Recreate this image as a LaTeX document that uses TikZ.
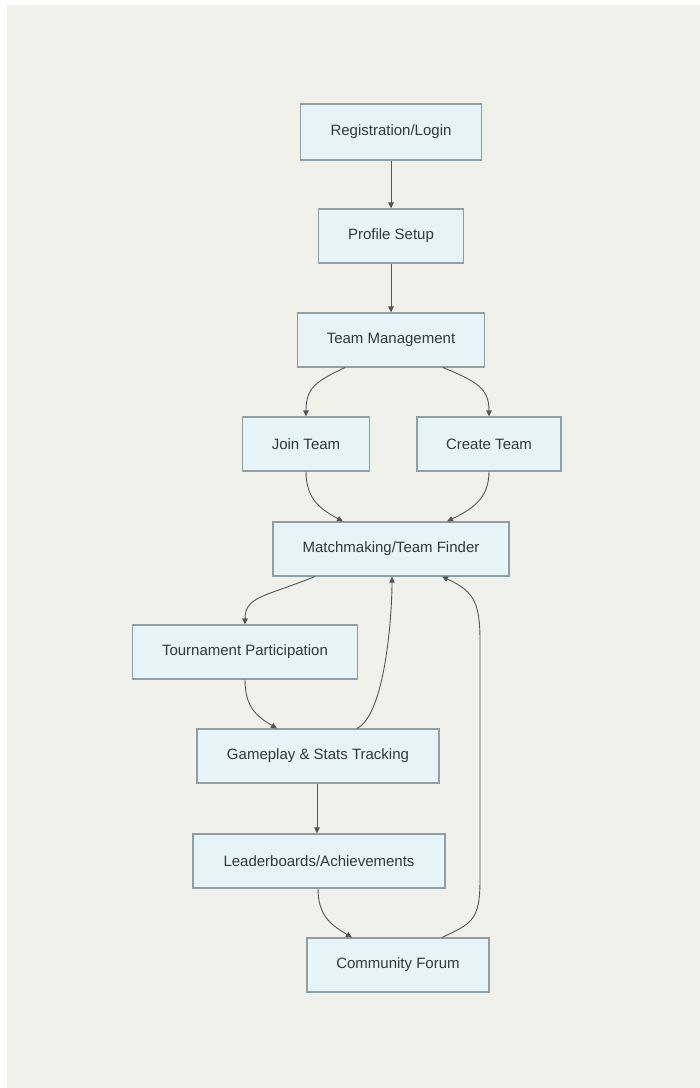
\documentclass[tikz,border=0pt]{standalone}
\usepackage{fontspec}
\setmainfont{Liberation Sans}
\usetikzlibrary{arrows.meta}

\definecolor{panel}{HTML}{F1F1EC}
\definecolor{boxfill}{HTML}{E6F3F7}
\definecolor{boxline}{HTML}{8E9FA5}
\definecolor{flowline}{HTML}{555555}
\definecolor{ink}{HTML}{33383D}

\tikzset{
  stage/.style={draw=boxline, fill=boxfill, line width=1.1pt, text=ink,
    inner sep=0pt, minimum height=54pt,
    font=\fontsize{15}{18}\selectfont},
  flow/.style={draw=flowline, line width=0.9pt,
    -{Triangle[length=6pt,width=5.5pt]}}
}

\begin{document}
\begin{tikzpicture}[x=1pt,y=-1pt]
  \useasboundingbox (0,0) rectangle (700,1088);
  \fill[white] (0,0) rectangle (700,1088);
  \fill[panel] (7,5) rectangle (700,1088);

  \node[stage, minimum width=181pt, minimum height=56pt] (reg) at (391,132) {Registration/Login};
  \node[stage, minimum width=145pt] (prof) at (391,236) {Profile Setup};
  \node[stage, minimum width=187pt] (team) at (391,340) {Team Management};
  \node[stage, minimum width=127pt] (join) at (306,444) {Join Team};
  \node[stage, minimum width=144pt] (create) at (489,444) {Create Team};
  \node[stage, minimum width=236pt] (match) at (391,549) {Matchmaking/Team Finder};
  \node[stage, minimum width=225pt] (tour) at (245,652) {Tournament Participation};
  \node[stage, minimum width=242pt] (game) at (318,756) {Gameplay \& Stats Tracking};
  \node[stage, minimum width=252pt] (lead) at (319,861) {Leaderboards/Achievements};
  \node[stage, minimum width=182pt] (forum) at (398,965) {Community Forum};

  \draw[flow] (reg) -- (prof);
  \draw[flow] (prof) -- (team);
  \draw[flow] ([xshift=-46pt]team.south) .. controls +(-30,14) and +(0,-28) .. (join.north);
  \draw[flow] ([xshift=52pt]team.south) .. controls +(34,14) and +(0,-28) .. (create.north);
  \draw[flow] (join.south) .. controls +(0,28) and +(-22,-12) .. ([xshift=-48pt]match.north);
  \draw[flow] (create.south) .. controls +(0,28) and +(24,-12) .. ([xshift=56pt]match.north);
  \draw[flow] ([xshift=-76pt]match.south) .. controls +(-50,20) and +(0,-28) .. (tour.north);
  \draw[flow] (tour.south) .. controls +(0,28) and +(-20,-12) .. ([xshift=-41pt]game.north);
  \draw[flow] ([xshift=39pt]game.north) .. controls +(28,-14) and +(0,40) .. ([xshift=1pt]match.south);
  \draw[flow] ([xshift=-1pt]game.south) -- ([xshift=-2pt]lead.north);
  \draw[flow] ([xshift=-1pt]lead.south) .. controls +(0,28) and +(-20,-12) .. ([xshift=-46pt]forum.north);
  \draw[flow] ([xshift=44pt]forum.north) .. controls +(30,-14) and +(0,40) .. (480,880)
    -- (480,640) .. controls +(0,-40) and +(30,14) .. ([xshift=51pt]match.south);
\end{tikzpicture}
\end{document}
